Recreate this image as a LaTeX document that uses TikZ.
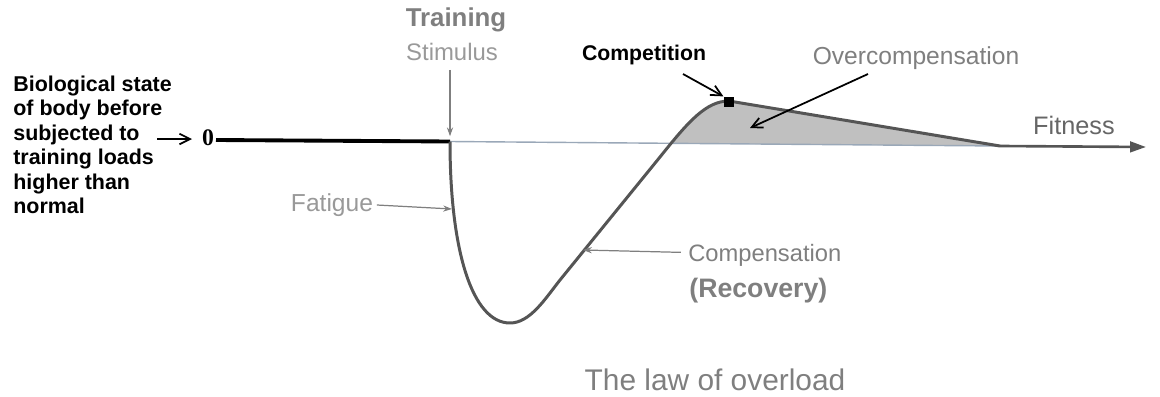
\documentclass[tikz,border=0pt]{standalone}
\usepackage{fontspec}
\setmainfont{Liberation Sans}
\newfontfamily\serifbold{Liberation Serif}
\usetikzlibrary{arrows.meta}
\definecolor{curvegray}{HTML}{555555}
\definecolor{fillgray}{HTML}{C0C0C0}
\definecolor{labgray}{HTML}{7F7F7F}
\definecolor{lightgray}{HTML}{999999}
\definecolor{axisblue}{HTML}{9AA8B8}
\tikzset{
  lbl/.style={inner sep=0pt},
  graylbl/.style={lbl,text=labgray},
  thinptr/.style={draw=labgray,line width=0.7pt,-{Stealth[length=5pt,width=3.5pt]}},
  blkptr/.style={draw=black,line width=1pt,-{Straight Barb[length=6pt,width=6pt]}},
  curvestyle/.style={draw=curvegray,line width=1.7pt,line join=round},
}
\begin{document}
\begin{tikzpicture}[x=0.02cm,y=-0.02cm]
\useasboundingbox (0,0) rectangle (1160,396);
% key coordinates
\coordinate (o) at (216,140);
\coordinate (s) at (450,141.5);
\coordinate (bot) at (510,323);
\coordinate (peak) at (729,101);
\coordinate (e) at (1000,146);
\coordinate (axend) at (1146,147);
% overcompensation fill
\begin{scope}
  \clip (s) -- (e) -- (1000,0) -- (450,0) -- cycle;
  \fill[fillgray] (560,280) -- (660,157) .. controls (688,122) and (706,101) .. (peak) -- (e) -- cycle;
\end{scope}
% axis
\draw[axisblue,line width=0.8pt] (s) -- (e);
\draw[curvegray,line width=1.5pt,-{Triangle[length=9pt,width=6pt]}] (e) -- (axend);
\draw[black,line width=2.2pt] (o) -- (s);
% curve
\draw[curvestyle] (s) .. controls (450,250) and (472,323) .. (bot)
  .. controls (530,323) and (545,299) .. (560,280) -- (660,157)
  .. controls (688,122) and (706,101) .. (peak) -- (e);
% competition marker
\node[fill=black,minimum size=6pt,inner sep=0pt] (comppt) at (729,102) {};
% left text
\node[lbl,anchor=north west,align=left,font=\bfseries\fontsize{12.2}{13.95}\selectfont] (bio) at (13,75.5)
  {Biological state\\of body before\\subjected to\\training loads\\higher than\\normal};
\node[lbl,font=\serifbold\bfseries\fontsize{13.5}{15}\selectfont] (zero) at (208,138) {0};
\coordinate (bioarr1) at (157,139);
\coordinate (bioarr2) at (192,139);
\draw[blkptr] (bioarr1) -- (bioarr2);
% training stimulus
\node[graylbl,font=\bfseries\fontsize{14.7}{17}\selectfont] (train) at (456,20) {Training};
\node[lbl,text=lightgray,font=\fontsize{13.6}{16}\selectfont] (stim) at (452,52) {Stimulus};
\draw[thinptr] ([yshift=-5pt]stim.south -| s) -- ([yshift=3pt]s);
% fatigue
\node[lbl,text=lightgray,font=\fontsize{14}{17}\selectfont] (fat) at (332,205) {Fatigue};
\coordinate (fatpt) at (452,209);
\draw[thinptr] ([xshift=2pt]fat.east) -- (fatpt);
% compensation
\node[graylbl,anchor=west,font=\fontsize{13.5}{15}\selectfont] (comp) at (688,255) {Compensation};
\node[graylbl,anchor=west,font=\bfseries\fontsize{15.2}{17}\selectfont] (rec) at (689,291) {(Recovery)};
\coordinate (comppt2) at (583,250);
\draw[thinptr] ([xshift=-4pt,yshift=1.5pt]comp.west) -- (comppt2);
% competition
\node[lbl,font=\bfseries\fontsize{12.1}{14}\selectfont] (compet) at (644,55) {Competition};
\coordinate (competstart) at (683,74);
\draw[blkptr] (competstart) -- (comppt.north west);
% overcompensation
\node[graylbl,font=\fontsize{14}{17}\selectfont] (over) at (916,58) {Overcompensation};
\coordinate (overstart) at (868,74);
\coordinate (overend) at (750,128);
\draw[blkptr] (overstart) -- (overend);
% fitness
\node[lbl,text=curvegray!90,font=\fontsize{14.4}{17}\selectfont] (fit) at (1074,125) {Fitness};
% title
\node[graylbl,font=\fontsize{17}{20}\selectfont] (law) at (715,380) {The law of overload};
\end{tikzpicture}
\end{document}
